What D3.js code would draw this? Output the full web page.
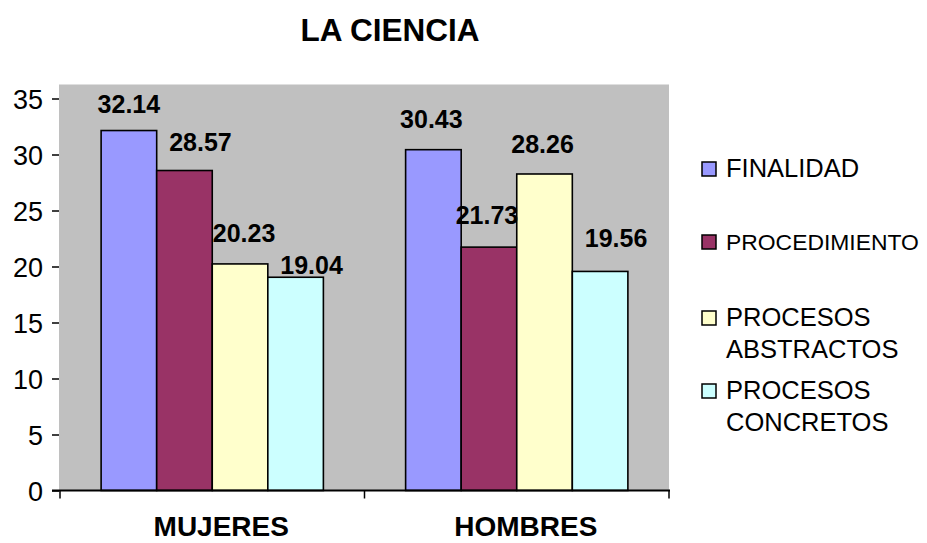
<!DOCTYPE html>
<html>
<head>
<meta charset="utf-8">
<script src="https://cdn.jsdelivr.net/npm/d3@7"></script>
<style>
  html, body { margin: 0; padding: 0; background: #fff; }
  svg { display: block; font-family: "Liberation Sans", Arial, sans-serif; }
</style>
</head>
<body>
<svg id="chart" width="927" height="543"></svg>
<script>
// Data
const categories = ["MUJERES", "HOMBRES"];
const seriesNames = ["FINALIDAD", "PROCEDIMIENTO", "PROCESOS ABSTRACTOS", "PROCESOS CONCRETOS"];
const mujeres = [32.14, 28.57, 20.23, 19.04];
const hombres = [30.43, 21.73, 28.26, 19.56];
const yTicks = [0, 5, 10, 15, 20, 25, 30, 35];
const legendLines = [["FINALIDAD"], ["PROCEDIMIENTO"], ["PROCESOS", "ABSTRACTOS"], ["PROCESOS", "CONCRETOS"]];

const colors = ["#9999FF", "#993366", "#FFFFCC", "#CCFFFF"];
const rows = [mujeres, hombres];

const svg = d3.select("#chart");

// Layout
const plot = { left: 60, right: 669, zero: 490.5, top35: 98.5 };

const y = d3.scaleLinear().domain([0, 35]).range([plot.zero, plot.top35]);
const x = d3.scaleBand().domain(categories).range([plot.left, plot.right]).padding(0);
const xs = d3.scaleBand().domain(seriesNames).range([0, x.bandwidth()])
  .paddingInner(0).paddingOuter(0.74);

// Plot background
svg.append("rect")
  .attr("x", plot.left - 1)
  .attr("y", y(36.25))
  .attr("width", plot.right - plot.left + 1)
  .attr("height", plot.zero - y(36.25))
  .attr("fill", "#C0C0C0");

// Title
svg.append("text")
  .attr("x", 390).attr("y", 41)
  .attr("text-anchor", "middle")
  .attr("font-size", 31.5).attr("font-weight", "bold")
  .text("LA CIENCIA");

// Bars
const groups = svg.selectAll("g.cat")
  .data(categories)
  .join("g")
  .attr("class", "cat")
  .attr("transform", d => `translate(${x(d)},0)`);

groups.selectAll("rect")
  .data((d, i) => rows[i].map((v, j) => ({ v, s: seriesNames[j], j })))
  .join("rect")
  .attr("x", d => xs(d.s))
  .attr("y", d => y(d.v))
  .attr("width", xs.bandwidth())
  .attr("height", d => y(0) - y(d.v))
  .attr("fill", d => colors[d.j])
  .attr("stroke", "#000")
  .attr("stroke-width", 1.6);

// Value labels, with small per-label placement adjustments
const labelNudge = [
  [[0, -18], [16, -20], [4, -22], [16, -3]],
  [[-2, -22], [-2, -23], [-2, -21], [16, -24]]
];
groups.each(function (cat, i) {
  d3.select(this).selectAll("text.val")
    .data(rows[i].map((v, j) => ({ v, s: seriesNames[j], j })))
    .join("text")
    .attr("class", "val")
    .attr("x", d => xs(d.s) + xs.bandwidth() / 2 + labelNudge[i][d.j][0])
    .attr("y", d => y(d.v) + labelNudge[i][d.j][1])
    .attr("text-anchor", "middle")
    .attr("font-size", 25).attr("font-weight", "bold")
    .text(d => d.v.toFixed(2));
});

// Y axis (ticks and labels only)
const yAxis = d3.axisLeft(y).tickValues(yTicks).tickSize(7).tickPadding(8);
const gy = svg.append("g").attr("transform", `translate(${plot.left - 1},0)`).call(yAxis);
gy.select(".domain").remove();
gy.selectAll(".tick line").attr("stroke", "#000").attr("stroke-width", 1.5);
gy.selectAll(".tick text")
  .attr("font-size", 27).attr("fill", "#000")
  .attr("font-family", "Liberation Sans, Arial, sans-serif")
  .attr("x", -16).attr("dy", "0.36em");

// X axis line with category boundary ticks
svg.append("line")
  .attr("x1", plot.left - 8).attr("x2", plot.right + 1)
  .attr("y1", plot.zero).attr("y2", plot.zero)
  .attr("stroke", "#000").attr("stroke-width", 2);
const boundaries = [x(categories[0]), x(categories[1]), x(categories[1]) + x.bandwidth()];
svg.selectAll("line.xb")
  .data(boundaries)
  .join("line")
  .attr("class", "xb")
  .attr("x1", d => d).attr("x2", d => d)
  .attr("y1", plot.zero).attr("y2", plot.zero + 8)
  .attr("stroke", "#000").attr("stroke-width", 1.5);

// Category labels
svg.selectAll("text.cat")
  .data(categories)
  .join("text")
  .attr("class", "cat")
  .attr("x", d => x(d) + x.bandwidth() / 2 + 9)
  .attr("y", 536)
  .attr("text-anchor", "middle")
  .attr("font-size", 28).attr("font-weight", "bold")
  .text(d => d);

// Legend
const legendY = [177, 250, 326, 399];
const legendX = 726;
const legendFont = 25.5;
const legendMaxWidth = 927 - legendX - 8;
const legend = svg.append("g");
legendLines.forEach((lines, i) => {
  legend.append("rect")
    .attr("x", 702).attr("y", legendY[i] - 15)
    .attr("width", 14).attr("height", 14)
    .attr("fill", colors[i]).attr("stroke", "#000").attr("stroke-width", 1.5);
  lines.forEach((ln, k) => {
    const t = legend.append("text")
      .attr("x", legendX).attr("y", legendY[i] + k * 32)
      .attr("font-size", legendFont)
      .text(ln);
    // shrink long entries so they stay inside the canvas
    const w = t.node().getComputedTextLength();
    if (w > legendMaxWidth) {
      t.attr("font-size", legendFont * legendMaxWidth / w);
    }
  });
});
</script>
</body>
</html>
